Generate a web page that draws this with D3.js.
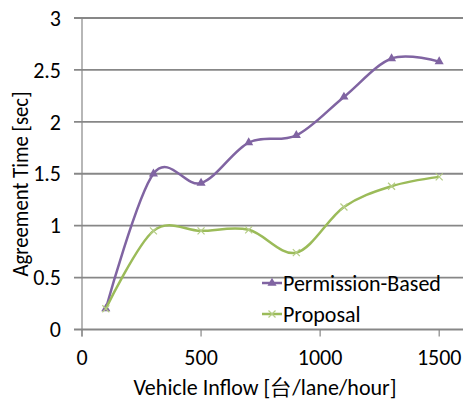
<!DOCTYPE html>
<html>
<head>
<meta charset="utf-8">
<script src="https://cdn.jsdelivr.net/npm/d3@7"></script>
<style>
  html, body { margin: 0; padding: 0; background: #fff; }
  svg { display: block; font-family: Carlito, "Open Sans", "Noto Sans", sans-serif; }
</style>
</head>
<body>
<svg id="chart" width="465" height="403"></svg>
<script>
// Vehicle inflow (veh/lane/hour) and agreement times for both schemes
const inflow = [100, 300, 500, 700, 900, 1100, 1300, 1500];
const permissionBased = [0.2, 1.5, 1.41, 1.8, 1.87, 2.24, 2.61, 2.58];
const proposal = [0.2, 0.95, 0.95, 0.96, 0.74, 1.18, 1.38, 1.47];
const xTicks = [0, 500, 1000, 1500];
const yTicks = [0, 0.5, 1, 1.5, 2, 2.5, 3];
const seriesNames = ["Permission-Based", "Proposal"];

const svg = d3.select("#chart");
const plotLeft = 82, plotRight = 463, plotTop = 18, plotBottom = 329.5;

const x = d3.scaleLinear().domain([0, 1600]).range([plotLeft, plotRight]);
const y = d3.scaleLinear().domain([0, 3]).range([plotBottom, plotTop]);

const gridColor = "#878787";
const fontSize = 22;

// horizontal gridlines with outward ticks
svg.append("g").selectAll("line").data(yTicks).join("line")
  .attr("x1", plotLeft - 8).attr("x2", plotRight)
  .attr("y1", d => y(d)).attr("y2", d => y(d))
  .attr("stroke", gridColor).attr("stroke-width", 1.8);

// vertical axis line
svg.append("line")
  .attr("x1", plotLeft).attr("x2", plotLeft).attr("y1", plotTop).attr("y2", plotBottom + 7)
  .attr("stroke", gridColor).attr("stroke-width", 1.2);

// x ticks below the axis
svg.append("g").selectAll("line").data(xTicks).join("line")
  .attr("x1", d => x(d)).attr("x2", d => x(d))
  .attr("y1", plotBottom).attr("y2", plotBottom + 7)
  .attr("stroke", gridColor).attr("stroke-width", 1.2);

// y tick labels
svg.append("g").selectAll("text").data(yTicks).join("text")
  .attr("x", 61).attr("y", d => y(d))
  .attr("dy", "0.35em").attr("text-anchor", "end")
  .attr("font-size", fontSize).attr("fill", "#000")
  .text(d => d);

// x tick labels
svg.append("g").selectAll("text").data(xTicks).join("text")
  .attr("x", d => x(d)).attr("y", 365)
  .attr("text-anchor", "middle")
  .attr("font-size", fontSize).attr("fill", "#000")
  .text(d => d);

// axis titles
svg.append("text")
  .attr("x", 265).attr("y", 395)
  .attr("text-anchor", "middle").attr("font-size", fontSize)
  .text("Vehicle Inflow [台/lane/hour]");
svg.append("text")
  .attr("transform", `translate(28,184) rotate(-90)`)
  .attr("text-anchor", "middle").attr("font-size", fontSize)
  .attr("textLength", 185).attr("lengthAdjust", "spacingAndGlyphs")
  .text("Agreement Time [sec]");

const line = d3.line()
  .x(d => x(d[0])).y(d => y(d[1]))
  .curve(d3.curveCardinal.tension(0));

const series = [
  { name: seriesNames[0], values: permissionBased, color: "#8064A2", marker: "triangle", mcolor: "#8064A2" },
  { name: seriesNames[1], values: proposal, color: "#9BBB59", marker: "cross", mcolor: "#B5CD86" }
];

function drawMarker(g, cx, cy, s) {
  if (s.marker === "triangle") {
    g.append("path")
      .attr("d", d3.symbol(d3.symbolTriangle, 36)())
      .attr("transform", `translate(${cx},${cy})`)
      .attr("fill", s.mcolor);
  } else {
    g.append("path")
      .attr("d", `M${cx - 3.5},${cy - 3.5}L${cx + 3.5},${cy + 3.5}M${cx - 3.5},${cy + 3.5}L${cx + 3.5},${cy - 3.5}`)
      .attr("stroke", s.mcolor).attr("stroke-width", 1.2).attr("fill", "none");
  }
}

series.forEach(s => {
  const pts = inflow.map((v, i) => [v, s.values[i]]);
  const g = svg.append("g");
  g.append("path").datum(pts)
    .attr("d", line)
    .attr("fill", "none").attr("stroke", s.color).attr("stroke-width", 2.5);
  pts.forEach(p => drawMarker(g, x(p[0]), y(p[1]), s));
});

// legend
const legend = svg.append("g");
series.forEach((s, i) => {
  const ly = 283 + i * 31;
  legend.append("line")
    .attr("x1", 262).attr("x2", 282).attr("y1", ly).attr("y2", ly)
    .attr("stroke", s.color).attr("stroke-width", 2.5);
  drawMarker(legend, 272, ly, s);
  legend.append("text")
    .attr("x", 283).attr("y", ly).attr("dy", "0.35em")
    .attr("font-size", fontSize).text(s.name);
});
</script>
</body>
</html>
